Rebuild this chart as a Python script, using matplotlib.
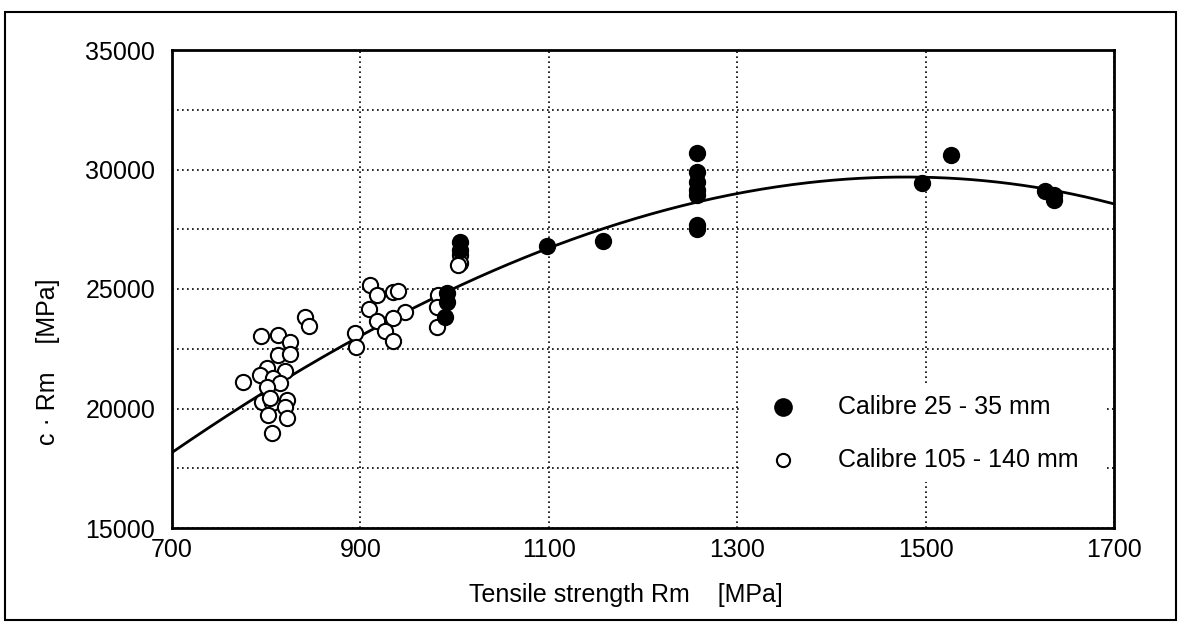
import numpy as np
import matplotlib
matplotlib.use("Agg")
import matplotlib.pyplot as plt
from matplotlib.patches import Rectangle

# Calibre 25 - 35 mm (filled)
small_x = [992, 992, 990, 1006, 1006, 1098, 1158, 1257, 1257, 1257, 1257, 1257, 1257, 1257,
           1496, 1527, 1627, 1636, 1636]
small_y = [24830, 24460, 23830, 26970, 26630, 26800, 27010, 30690, 29900, 29480, 29140, 28930,
           27680, 27510, 29440, 30610, 29100, 28930, 28720]

# Calibre 105 - 140 mm (open)
large_x = [1006, 1006, 1004, 982, 981, 981, 910, 918, 935, 940, 909, 918, 947, 935, 926, 935,
           894, 895, 795, 813, 825, 841, 845, 813, 825, 801, 820, 793, 807, 815, 801, 796,
           806, 822, 820, 802, 822, 806, 775, 804]
large_y = [26420, 26090, 26000, 24750, 24250, 23410, 25170, 24750, 24880, 24920, 24160, 23660,
           24040, 23790, 23240, 22830, 23160, 22570, 23030, 23080, 22780, 23830, 23450, 22240,
           22280, 21700, 21570, 21400, 21280, 21070, 20900, 20270, 20230, 20360, 20060, 19730,
           19600, 18980, 21110, 20440]

# fitted curve, points
curve_x = [700, 800, 900, 1006, 1100, 1257, 1500, 1700]
curve_y = [18180, 20770, 22950, 25040, 26840, 28720, 29560, 28600]

xticks = [700, 900, 1100, 1300, 1500, 1700]
yticks = [15000, 20000, 25000, 30000, 35000]

plt.rcParams['font.family'] = ['Liberation Sans', 'DejaVu Sans']

W, H = 1182, 624
fig = plt.figure(figsize=(W/100, H/100), dpi=100)
ax = fig.add_axes([172/W, 1 - 528/H, (1114-172)/W, (528-50)/H])
ax.set_axisbelow(True)

coef = np.polyfit(curve_x, curve_y, 3)
xx = np.linspace(700, 1700, 300)
ax.plot(xx, np.polyval(coef, xx), color='black', lw=2, zorder=2)

ax.scatter(large_x, large_y, s=120, facecolor='white', edgecolor='black', linewidths=1.5, zorder=3)
ax.scatter(small_x, small_y, s=120, facecolor='black', edgecolor='black', linewidths=1.5, zorder=4)

ax.set_xlim(700, 1700)
ax.set_ylim(15000, 35000)
ax.set_xticks(xticks)
ax.set_yticks(yticks)
ax.set_yticks(np.arange(15000, 35001, 2500), minor=True)
ax.grid(True, which='both', axis='y', color='black', linestyle=(0, (1, 2)), lw=1.2)
ax.grid(True, which='major', axis='x', color='black', linestyle=(0, (1, 2)), lw=1.2)
ax.tick_params(which='both', length=0, labelsize=18)
ax.tick_params(axis='y', pad=12)
ax.tick_params(axis='x', pad=7)
for s in ax.spines.values():
    s.set_linewidth(2)
    s.set_zorder(5)

fig.text(626/W, 1 - 595/H, 'Tensile strength Rm    [MPa]', fontsize=18, ha='center', va='center')
fig.text(48/W, 1 - 362/H, 'c · Rm    [MPa]', fontsize=18, ha='center', va='center', rotation=90)

# legend (white box hiding the grid)
ax.add_patch(Rectangle((742/W, 1 - 482/H), (1106-742)/W, (482-385)/H, transform=fig.transFigure,
                       facecolor='white', edgecolor='none', zorder=1))
ax.scatter([1349], [20060], s=150, facecolor='black', edgecolor='black', linewidths=1.2, zorder=5)
ax.scatter([1349], [17850], s=90, facecolor='white', edgecolor='black', linewidths=1.5, zorder=5)
ax.text(1407, 20060, 'Calibre 25 - 35 mm', fontsize=18, va='center', zorder=6)
ax.text(1407, 17850, 'Calibre 105 - 140 mm', fontsize=18, va='center', zorder=6)

fig.patches.append(Rectangle((5/W, 1 - 620/H), 1171/W, 608/H, transform=fig.transFigure,
                             fill=False, edgecolor='black', lw=1.5))

fig.savefig('out.png', dpi=100)
